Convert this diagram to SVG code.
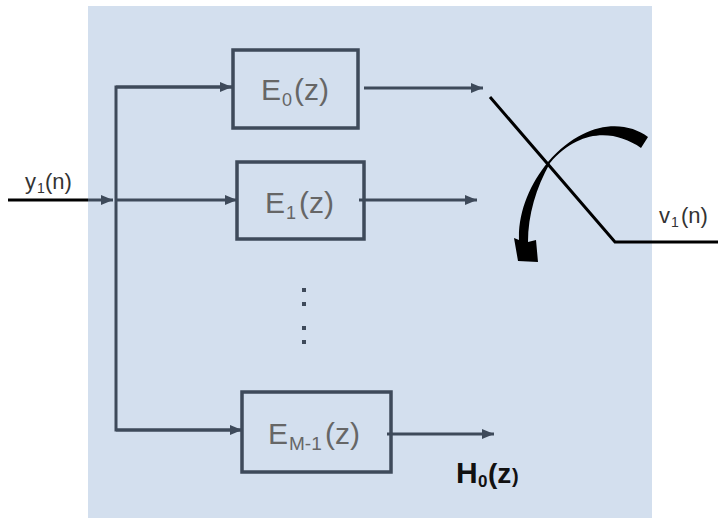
<svg xmlns="http://www.w3.org/2000/svg" width="718" height="518" viewBox="0 0 718 518">
<defs>
<style>
.ln{stroke:#3E4A5A;stroke-width:3;fill:none}
.box{stroke:#3E4A5A;stroke-width:3.5;fill:none}
.blk{stroke:#000;stroke-width:3;fill:none}
.lab{font-family:"Liberation Sans",Arial,sans-serif;fill:#666}
.sig{font-family:"Liberation Sans",Arial,sans-serif;fill:#333}
</style>
<marker id="ah" viewBox="0 0 12 10" refX="12" refY="5" markerWidth="12" markerHeight="10" markerUnits="userSpaceOnUse" orient="auto">
<path d="M0,0 L12,5 L0,10 Z" fill="#3E4A5A"/>
</marker>
</defs>
<rect x="88" y="6" width="564" height="512" fill="#D3DFEE"/>
<g id="connectors">
<line class="blk" x1="8" y1="200" x2="88" y2="200"/>
<line class="ln" x1="88" y1="200" x2="113" y2="200" marker-end="url(#ah)"/>
<polyline class="ln" points="232,87 116,87 116,430 242,430"/>
<line class="ln" x1="116" y1="87" x2="232" y2="87" marker-end="url(#ah)"/>
<line class="ln" x1="116" y1="200" x2="237" y2="200" marker-end="url(#ah)"/>
<line class="ln" x1="116" y1="430" x2="242" y2="430" marker-end="url(#ah)"/>
<line class="ln" x1="364" y1="88" x2="483" y2="88" marker-end="url(#ah)"/>
<line class="ln" x1="359" y1="200" x2="477" y2="200" marker-end="url(#ah)"/>
<line class="ln" x1="387" y1="434" x2="494" y2="434" marker-end="url(#ah)"/>
</g>
<g id="E0">
<rect class="box" x="233" y="50" width="125" height="78"/>
<text class="lab" font-size="30" y="100"><tspan x="261">E</tspan><tspan x="282" y="106" font-size="18">0</tspan><tspan x="294" y="100">(z)</tspan></text>
</g>
<g id="E1">
<rect class="box" x="237" y="162" width="127" height="77"/>
<text class="lab" font-size="30" y="213"><tspan x="265">E</tspan><tspan x="286" y="219" font-size="18">1</tspan><tspan x="299" y="213">(z)</tspan></text>
</g>
<g id="dots" fill="#3E4A5A">
<rect x="302" y="288" width="4" height="4"/>
<rect x="302" y="302" width="4" height="4"/>
<rect x="302" y="326" width="4" height="4"/>
<rect x="302" y="340" width="4" height="4"/>
</g>
<g id="EM1">
<rect class="box" x="242" y="392" width="149" height="80"/>
<text class="lab" font-size="30" y="444"><tspan x="268">E</tspan><tspan x="289" y="450" font-size="19">M-1</tspan><tspan x="325" y="444">(z)</tspan></text>
</g>
<g id="switch">
<polyline class="blk" points="490,97 615,242 718,242"/>
<path fill="#000" d="M648,137 C625,120 585,120 548,162 C530,184 518,212 519,240 L514,238 L518,261 L538,262 L536,240 L528,242 C528,215 536,188 550,163 C580,128 615,130 641,148 Z"/>
</g>
<g id="labels">
<text class="sig" font-size="22" y="189"><tspan x="25">y</tspan><tspan x="37" y="193" font-size="14">1</tspan><tspan x="45" y="189">(n)</tspan></text>
<text class="sig" font-size="22" y="223"><tspan x="659">v</tspan><tspan x="671" y="227" font-size="14">1</tspan><tspan x="681" y="223">(n)</tspan></text>
<text font-family="Liberation Sans,Arial,sans-serif" font-weight="bold" fill="#111" y="483"><tspan x="456" font-size="30">H</tspan><tspan x="478" y="487" font-size="17">0</tspan><tspan x="488" y="483" font-size="28">(z</tspan><tspan x="512" font-size="20">)</tspan></text>
</g>
</svg>
